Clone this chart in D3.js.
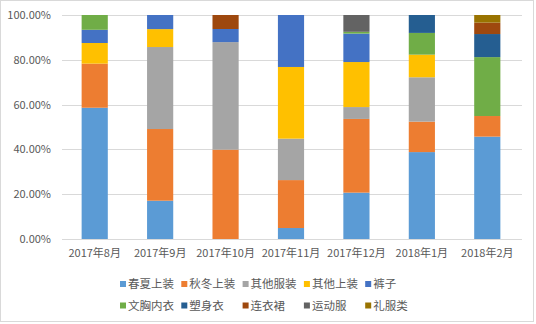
<!DOCTYPE html>
<html>
<head>
<meta charset="utf-8">
<script src="https://cdn.jsdelivr.net/npm/d3@7"></script>
<style>
  html, body { margin: 0; padding: 0; background: #fff; }
  svg { display: block; font-family: "Noto Sans CJK SC", "Noto Sans", sans-serif; }
</style>
</head>
<body>
<svg id="chart" width="536" height="324"></svg>
<script>
// Months on the x axis
const months = ["2017年8月", "2017年9月", "2017年10月", "2017年11月", "2017年12月", "2018年1月", "2018年2月"];

// Category names, in stacking order (bottom to top)
const categories = ["春夏上装", "秋冬上装", "其他服装", "其他上装", "裤子", "文胸内衣", "塑身衣", "连衣裙", "运动服", "礼服类"];

// Share of each category per month (%)
const chunXiaShangZhuang = [58.6, 17.1, 0.0, 4.9, 20.7, 38.8, 45.7];
const qiuDongShangZhuang = [19.7, 32.0, 39.9, 21.4, 32.9, 13.6, 9.2];
const qiTaFuZhuang       = [0.0, 36.6, 48.0, 18.5, 5.3, 19.8, 0.0];
const qiTaShangZhuang    = [9.2, 8.0, 0.0, 32.0, 20.1, 10.1, 0.0];
const kuZi               = [5.9, 6.3, 5.85, 23.2, 12.7, 0.0, 0.0];
const wenXiongNeiYi      = [6.6, 0.0, 0.0, 0.0, 0.8, 9.7, 26.3];
const suShenYi           = [0.0, 0.0, 0.0, 0.0, 0.0, 8.0, 10.3];
const lianYiQun          = [0.0, 0.0, 6.25, 0.0, 0.0, 0.0, 5.1];
const yunDongFu          = [0.0, 0.0, 0.0, 0.0, 7.5, 0.0, 0.0];
const liFuLei            = [0.0, 0.0, 0.0, 0.0, 0.0, 0.0, 3.4];

// Y axis tick values
const yTicks = [0, 0.2, 0.4, 0.6, 0.8, 1.0];

const seriesValues = [chunXiaShangZhuang, qiuDongShangZhuang, qiTaFuZhuang, qiTaShangZhuang, kuZi,
                      wenXiongNeiYi, suShenYi, lianYiQun, yunDongFu, liFuLei];
const colors = ["#5B9BD5", "#ED7D31", "#A5A5A5", "#FFC000", "#4472C4",
                "#70AD47", "#255E91", "#9E480E", "#636363", "#997300"];

// One row per month for d3.stack
const rows = months.map((m, i) => {
  const r = { month: m };
  categories.forEach((c, k) => { r[c] = seriesValues[k][i]; });
  return r;
});

const svg = d3.select("#chart");
const textColor = "#595959";
const gridColor = "#D9D9D9";

// Outer frame
svg.append("rect")
  .attr("x", 0.5).attr("y", 0.5)
  .attr("width", 533).attr("height", 321)
  .attr("fill", "none").attr("stroke", gridColor);

const plot = { left: 62, right: 520, top: 15, bottom: 239 };

const x = d3.scaleBand()
  .domain(months)
  .range([plot.left, plot.right])
  .paddingInner(0.6)
  .paddingOuter(0.3);

const y = d3.scaleLinear().domain([0, 1]).range([plot.bottom, plot.top]);

// Gridlines
svg.append("g")
  .selectAll("line")
  .data(yTicks)
  .join("line")
  .attr("x1", plot.left).attr("x2", plot.right + 2)
  .attr("y1", d => Math.round(y(d)) + 0.5)
  .attr("y2", d => Math.round(y(d)) + 0.5)
  .attr("stroke", gridColor).attr("stroke-width", 1);

// Y axis labels
const yAxis = d3.axisLeft(y)
  .tickValues(yTicks)
  .tickFormat(d => (d * 100).toFixed(2) + "%")
  .tickSize(0)
  .tickPadding(0);

const yg = svg.append("g")
  .attr("transform", `translate(51,0)`)
  .call(yAxis);
yg.select(".domain").remove();
yg.selectAll("text")
  .attr("fill", textColor)
  .style("font-size", "11px")
  .style("font-family", "'Noto Sans CJK SC', sans-serif");

// Stacked bars, normalised to 100%
const stack = d3.stack().keys(categories).offset(d3.stackOffsetExpand);
const layers = stack(rows);

svg.append("g")
  .selectAll("g")
  .data(layers)
  .join("g")
  .attr("fill", (d, i) => colors[i])
  .selectAll("rect")
  .data(d => d)
  .join("rect")
  .attr("x", d => x(d.data.month))
  .attr("width", x.bandwidth())
  .attr("y", d => y(d[1]))
  .attr("height", d => Math.max(0, y(d[0]) - y(d[1])));

// X axis labels
const xAxis = d3.axisBottom(x).tickSize(0).tickPadding(0);
const xg = svg.append("g")
  .attr("transform", `translate(0,${plot.bottom + 10})`)
  .call(xAxis);
xg.select(".domain").remove();
xg.selectAll("text")
  .attr("fill", textColor)
  .style("font-size", "11px")
  .style("font-family", "'Noto Sans CJK SC', sans-serif");

// Legend: two rows of five
const legend = svg.append("g");
const colStart = 120, colStep = 61.3;
const rowY = [284, 305.5];
categories.forEach((c, i) => {
  const col = i % 5, row = Math.floor(i / 5);
  const gx = colStart + col * colStep;
  const g = legend.append("g").attr("transform", `translate(${gx},${rowY[row]})`);
  g.append("rect")
    .attr("x", 0).attr("y", -3)
    .attr("width", 6).attr("height", 6)
    .attr("fill", colors[i]);
  g.append("text")
    .attr("x", 8).attr("y", 0)
    .attr("dy", "0.35em")
    .attr("fill", textColor)
    .style("font-size", "11.5px")
    .text(c);
});
</script>
</body>
</html>
